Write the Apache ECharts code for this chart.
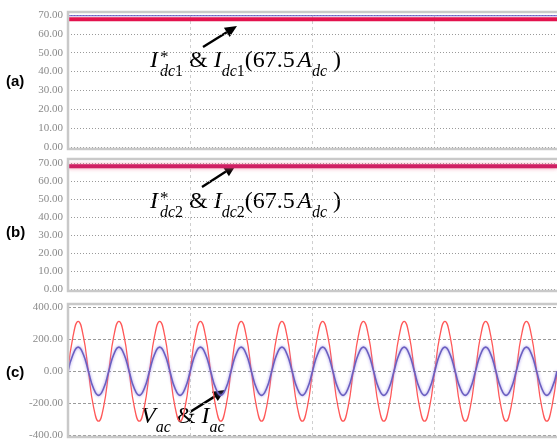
<!DOCTYPE html>
<html>
<head>
<meta charset="utf-8">
<script src="https://cdn.jsdelivr.net/npm/echarts@6/dist/echarts.min.js"></script>
<style>
  html, body { margin: 0; padding: 0; background: #fff; }
  #chart { width: 557px; height: 441px; }
</style>
</head>
<body>
<div id="chart"></div>
<script>
// time base (s) for the dc panels
const tDc = [0, 0.025, 0.05, 0.075, 0.1, 0.125, 0.15, 0.175, 0.2];
// panel (a)
const idc1Top = [69.6, 69.6, 69.6, 69.6, 69.6, 69.6, 69.6, 69.6, 69.6];
const idc1 = [67.8, 67.8, 67.8, 67.8, 67.8, 67.8, 67.8, 67.8, 67.8];
// panel (b)
const idc2 = [68.2, 68.2, 68.2, 68.2, 68.2, 68.2, 68.2, 68.2, 68.2];

// panel (c): one sample every 1/480 s (8 per 60 Hz cycle)
const acStep = 1 / 480;
const vac = [
  0, 220, 311, 220, 0, -220, -311, -220,
  0, 220, 311, 220, 0, -220, -311, -220,
  0, 220, 311, 220, 0, -220, -311, -220,
  0, 220, 311, 220, 0, -220, -311, -220,
  0, 220, 311, 220, 0, -220, -311, -220,
  0, 220, 311, 220, 0, -220, -311, -220,
  0, 220, 311, 220, 0, -220, -311, -220,
  0, 220, 311, 220, 0, -220, -311, -220,
  0, 220, 311, 220, 0, -220, -311, -220,
  0, 220, 311, 220, 0, -220, -311, -220,
  0, 220, 311, 220, 0, -220, -311, -220,
  0, 220, 311, 220, 0, -220, -311, -220,
  0
];
const iac = [
  0, 106, 150, 106, 0, -106, -150, -106,
  0, 106, 150, 106, 0, -106, -150, -106,
  0, 106, 150, 106, 0, -106, -150, -106,
  0, 106, 150, 106, 0, -106, -150, -106,
  0, 106, 150, 106, 0, -106, -150, -106,
  0, 106, 150, 106, 0, -106, -150, -106,
  0, 106, 150, 106, 0, -106, -150, -106,
  0, 106, 150, 106, 0, -106, -150, -106,
  0, 106, 150, 106, 0, -106, -150, -106,
  0, 106, 150, 106, 0, -106, -150, -106,
  0, 106, 150, 106, 0, -106, -150, -106,
  0, 106, 150, 106, 0, -106, -150, -106,
  0
];

const dcTicks = [0, 10, 20, 30, 40, 50, 60, 70];
const acTicks = [-400, -200, 0, 200, 400];

const pair = (t, arr) => arr.map((v, i) => [t[i], v]);
const pairStep = (arr) => arr.map((v, i) => [i * acStep, v]);

// pick the narrowest installed sans for the tick labels
const pickNarrow = () => {
  const ctx = document.createElement("canvas").getContext("2d");
  const fams = ["Liberation Sans Narrow", "DejaVu Sans Condensed", "Liberation Sans"];
  let best = "Liberation Sans", bw = 1e9;
  for (const f of fams) {
    ctx.font = "11px '" + f + "'";
    const w = ctx.measureText("-400.00").width;
    if (w < bw - 0.5) { bw = w; best = f; }
  }
  return best;
};
const narrow = pickNarrow();

const chart = echarts.init(document.getElementById("chart"));

const tickLabel = (ticks) => ({
  fontFamily: narrow,
  fontSize: 11,
  color: "#8a8a8a",
  margin: 5,
  formatter: (v) => (ticks.includes(v) ? v.toFixed(2) : ""),
});

const xAxisBase = (idx) => ({
  type: "value",
  gridIndex: idx,
  min: 0,
  max: 0.2,
  interval: 0.05,
  axisLine: { show: false },
  axisTick: { show: false },
  axisLabel: { show: false },
  splitLine: { lineStyle: { type: [3, 3], color: "#cfcfcf", width: 1 } },
});

// black arrow (annotation)
function arrow(x1, y1, x2, y2) {
  const len = Math.hypot(x2 - x1, y2 - y1);
  const ux = (x2 - x1) / len, uy = (y2 - y1) / len;
  const bx = x2 - ux * 12, by = y2 - uy * 12;
  return [
    { type: "line", shape: { x1: x1, y1: y1, x2: bx, y2: by }, style: { stroke: "#000", lineWidth: 2.4 } },
    {
      type: "polygon",
      shape: { points: [[x2, y2], [bx - uy * 5.5, by + ux * 5.5], [bx + uy * 5.5, by - ux * 5.5]] },
      style: { fill: "#000" },
    },
  ];
}

const serif = "Liberation Serif, Times New Roman, serif";
const rich = {
  I: { fontFamily: serif, fontStyle: "italic", fontSize: 24, lineHeight: 26, verticalAlign: "top", color: "#000" },
  n: { fontFamily: serif, fontSize: 24, lineHeight: 26, verticalAlign: "top", color: "#000" },
  sub: { fontFamily: serif, fontStyle: "italic", fontSize: 16, lineHeight: 16, padding: [15, 0, 0, 0], verticalAlign: "top", color: "#000" },
  subn: { fontFamily: serif, fontSize: 16, lineHeight: 16, padding: [15, 0, 0, 0], verticalAlign: "top", color: "#000" },
  star: { fontFamily: serif, fontSize: 17, lineHeight: 17, width: 0, padding: [0, 0, 0, 2], verticalAlign: "top", color: "#000" },
  sp: { fontFamily: serif, fontSize: 10, lineHeight: 10, verticalAlign: "top" },
};

const note = (x, y, text) => ({
  type: "text",
  x: x,
  y: y,
  style: { text: text, rich: rich, align: "left", verticalAlign: "top" },
});

const frame = (y1, y2) => ({
  type: "rect",
  shape: { x: 68, y: y1, width: 500, height: y2 - y1 },
  style: { fill: "none", stroke: "#c9c9c9", lineWidth: 2.5 },
  z: 5,
});

const panelLabel = (y, t) => ({
  type: "text",
  x: 6,
  y: y,
  style: {
    text: t,
    fontFamily: "Liberation Sans, Arial, sans-serif",
    fontWeight: "bold",
    fontSize: 15,
    fill: "#000",
    verticalAlign: "middle",
  },
});

const option = {
  animation: false,
  backgroundColor: "#fff",
  grid: [
    { left: 68, right: -3, top: 15, height: 132 },
    { left: 68, right: -3, top: 163, height: 126 },
    { left: 68, right: -3, top: 307, height: 129 },
  ],
  xAxis: [xAxisBase(0), xAxisBase(1), xAxisBase(2)],
  yAxis: [
    {
      type: "value", gridIndex: 0, min: 0, max: 70, interval: 10,
      axisLine: { show: false }, axisTick: { show: false },
      axisLabel: tickLabel(dcTicks),
      splitLine: { lineStyle: { type: [1, 2], color: "#9a9a9a" } },
    },
    {
      type: "value", gridIndex: 1, min: 0, max: 70, interval: 10,
      axisLine: { show: false }, axisTick: { show: false },
      axisLabel: tickLabel(dcTicks),
      splitLine: { lineStyle: { type: [1, 2], color: "#9a9a9a" } },
    },
    {
      type: "value", gridIndex: 2, min: -400, max: 400, interval: 200,
      axisLine: { show: false }, axisTick: { show: false },
      axisLabel: tickLabel(acTicks),
      splitLine: { lineStyle: { type: [3, 2], color: "#9a9a9a" } },
    },
  ],
  series: [
    {
      name: "Idc1", type: "line", xAxisIndex: 0, yAxisIndex: 0, symbol: "none",
      lineStyle: { color: "#e3124e", width: 4 },
      data: pair(tDc, idc1),
    },
    {
      name: "Idc1 top", type: "line", xAxisIndex: 0, yAxisIndex: 0, symbol: "none",
      lineStyle: { color: "#5b4fc6", width: 1 },
      data: pair(tDc, idc1Top),
    },
    {
      name: "Idc2", type: "line", xAxisIndex: 1, yAxisIndex: 1, symbol: "none",
      lineStyle: { color: "#cf1f63", width: 4, shadowColor: "rgba(240,120,150,0.8)", shadowBlur: 4 },
      data: pair(tDc, idc2),
    },
    {
      name: "Vac", type: "line", xAxisIndex: 2, yAxisIndex: 2, symbol: "none", smooth: true,
      lineStyle: { color: "#ff5858", width: 1.3 },
      data: pairStep(vac),
    },
    {
      name: "Iac", type: "line", xAxisIndex: 2, yAxisIndex: 2, symbol: "none", smooth: true,
      lineStyle: { color: "#6a5fc0", width: 1.6, shadowColor: "rgba(150,130,230,0.9)", shadowBlur: 3 },
      data: pairStep(iac),
    },
  ],
  graphic: [
    frame(12, 149),
    frame(159, 291),
    frame(304, 437),
    panelLabel(82, "(a)"),
    panelLabel(233, "(b)"),
    panelLabel(373, "(c)"),
    note(150, 49, "{I|I}{star|*}{sub|dc}{subn|1}{n| & }{I|I}{sub|dc}{subn|1}{n|(67.5}{sp| }{I|A}{sub|dc}{n| )}"),
    note(150, 190, "{I|I}{star|*}{sub|dc}{subn|2}{n| & }{I|I}{sub|dc}{subn|2}{n|(67.5}{sp| }{I|A}{sub|dc}{n| )}"),
    note(141, 405, "{I|V}{sub|ac}{n| & }{I|I}{sub|ac}"),
    ...arrow(203, 47, 237, 26),
    ...arrow(202, 187, 236, 165),
    ...arrow(190, 412, 225, 390),
  ],
};

chart.setOption(option);
</script>
</body>
</html>
